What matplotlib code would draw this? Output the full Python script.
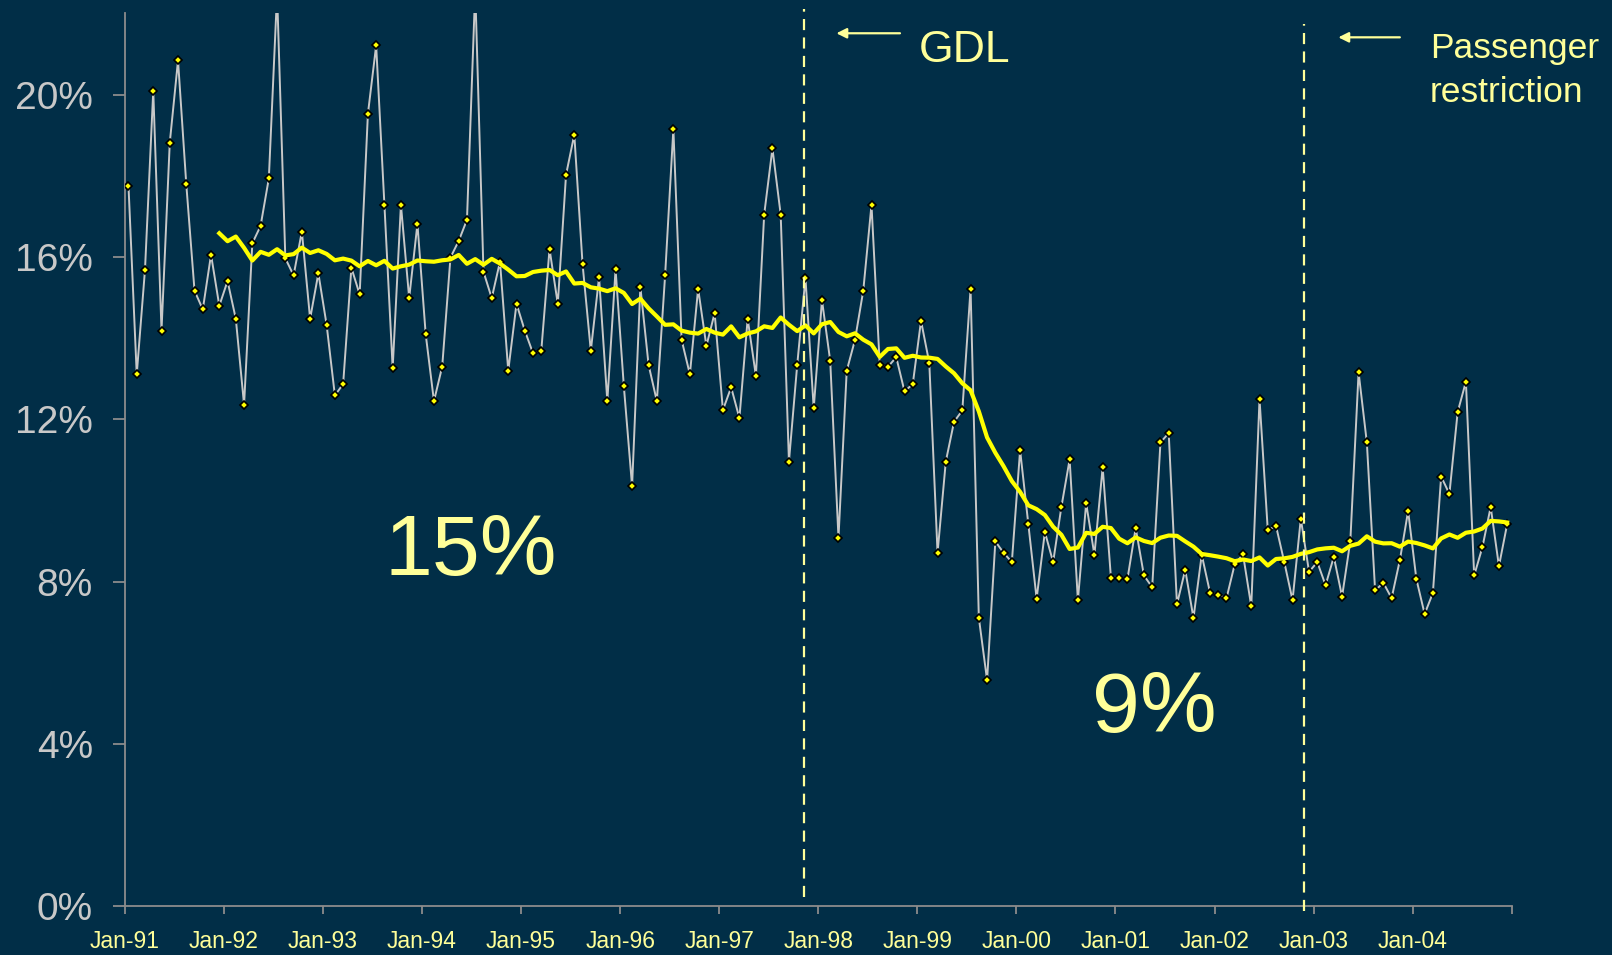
import numpy as np
import pandas as pd
import matplotlib
matplotlib.use('Agg')
import matplotlib.pyplot as plt

plt.rcParams['font.family'] = ['Liberation Sans', 'DejaVu Sans']

# monthly share (%), Jan-91 .. Dec-04
vals = [
    17.76, 13.11, 15.69, 20.10, 14.19, 18.82, 20.85, 17.80, 15.17, 14.71, 16.06, 14.80,
    15.41, 14.48, 12.36, 16.34, 16.77, 17.94, 22.50, 15.97, 15.55, 16.63, 14.48, 15.60,
    14.33, 12.59, 12.87, 15.74, 15.08, 19.53, 21.22, 17.29, 13.26, 17.29, 14.99, 16.82,
    14.10, 12.45, 13.30, 15.99, 16.40, 16.92, 22.60, 15.64, 14.99, 15.89, 13.20, 14.85,
    14.19, 13.63, 13.69, 16.20, 14.85, 18.03, 19.02, 15.83, 13.69, 15.50, 12.45, 15.70,
    12.82, 10.35, 15.27, 13.34, 12.45, 15.55, 19.16, 13.96, 13.11, 15.22, 13.81, 14.62,
    12.23, 12.79, 12.03, 14.48, 13.07, 17.05, 18.68, 17.05, 10.96, 13.34, 15.49, 12.27,
    14.94, 13.44, 9.08, 13.20, 13.96, 15.17, 17.29, 13.34, 13.30, 13.53, 12.69, 12.87,
    14.43, 13.39, 8.71, 10.96, 11.94, 12.22, 15.22, 7.11, 5.57, 8.99, 8.71, 8.48,
    11.24, 9.41, 7.58, 9.22, 8.48, 9.84, 11.01, 7.54, 9.93, 8.66, 10.82, 8.10,
    8.10, 8.06, 9.32, 8.15, 7.86, 11.43, 11.66, 7.44, 8.29, 7.10, 8.66, 7.73,
    7.68, 7.59, 8.43, 8.67, 7.39, 12.50, 9.27, 9.37, 8.48, 7.54, 9.55, 8.24,
    8.48, 7.91, 8.61, 7.63, 9.00, 13.16, 11.43, 7.78, 7.97, 7.59, 8.53, 9.74,
    8.06, 7.20, 7.72, 10.59, 10.16, 12.18, 12.93, 8.15, 8.85, 9.84, 8.38, 9.42,
]
years = ['91', '92', '93', '94', '95', '96', '97', '98', '99', '00', '01', '02', '03', '04']
tick_labels = ['Jan-' + y for y in years]
y_ticks = [0, 4, 8, 12, 16, 20]
gdl_month = 82.3
passenger_month = 142.8

bg = '#012E47'
pale = '#FFFF99'
grey = '#C8C8C8'

s = pd.Series(vals)
ma = s.rolling(12).mean()   # 12 month moving average
x = np.arange(len(vals)) + 0.45

fig = plt.figure(figsize=(16.12, 9.55), dpi=100, facecolor=bg)
ax = fig.add_axes([0.0774, 0.0513, 0.8604, 0.9351])
ax.set_facecolor(bg)

ax.plot(x, s, color=grey, lw=1.4, marker='D', ms=4.4, mfc='#FFFF00', mec='black', mew=1.2, zorder=3)
ax.plot(x, ma, color='#FFFF00', lw=3.0, zorder=4, solid_joinstyle='round')

ax.set_xlim(0, 168)
ax.set_ylim(0, 22.02)

ax.axvline(gdl_month, ymin=0.01, ymax=1.0045, color=pale, lw=1.6, dashes=(5, 3.3), clip_on=False, zorder=5)
ax.axvline(passenger_month, ymin=-0.006, ymax=0.988, color=pale, lw=1.6, dashes=(5, 3.3), clip_on=False, zorder=5)

arrow = dict(arrowstyle='-|>', color=pale, lw=1.6, mutation_scale=15, shrinkA=0, shrinkB=0)
ax.annotate('', xy=(86.2, 21.52), xytext=(93.9, 21.52), arrowprops=arrow, annotation_clip=False)
ax.annotate('', xy=(147.0, 21.42), xytext=(154.45, 21.42), arrowprops=arrow, annotation_clip=False)

ax.text(96.2, 20.82, 'GDL', color=pale, fontsize=32, ha='left', va='baseline')
ax.text(158.1, 20.91, 'Passenger', color=pale, fontsize=25.5, ha='left', va='baseline', clip_on=False)
ax.text(158.1, 19.83, 'restriction', color=pale, fontsize=25.5, ha='left', va='baseline', clip_on=False)

ax.text(41.9, 8.16, '15%', color=pale, fontsize=62, ha='center', va='baseline')
ax.text(124.7, 4.30, '9%', color=pale, fontsize=62, ha='center', va='baseline')

for side in ['top', 'right']:
    ax.spines[side].set_visible(False)
for side in ['left', 'bottom']:
    ax.spines[side].set_color('#8C8C8C')
    ax.spines[side].set_linewidth(1.3)

ax.set_xticks(np.arange(0, 169, 12))
ax.set_xticklabels(tick_labels + [''])
ax.set_yticks(y_ticks)
ax.set_yticklabels(['%d%%' % v for v in y_ticks])
ax.tick_params(axis='x', colors='#8C8C8C', labelcolor=pale, labelsize=16.5, length=6, width=1.3, pad=11)
ax.tick_params(axis='y', colors='#8C8C8C', labelcolor=grey, labelsize=28, length=9, width=1.3, pad=14)

fig.savefig('out.png', dpi=100, facecolor=bg)
